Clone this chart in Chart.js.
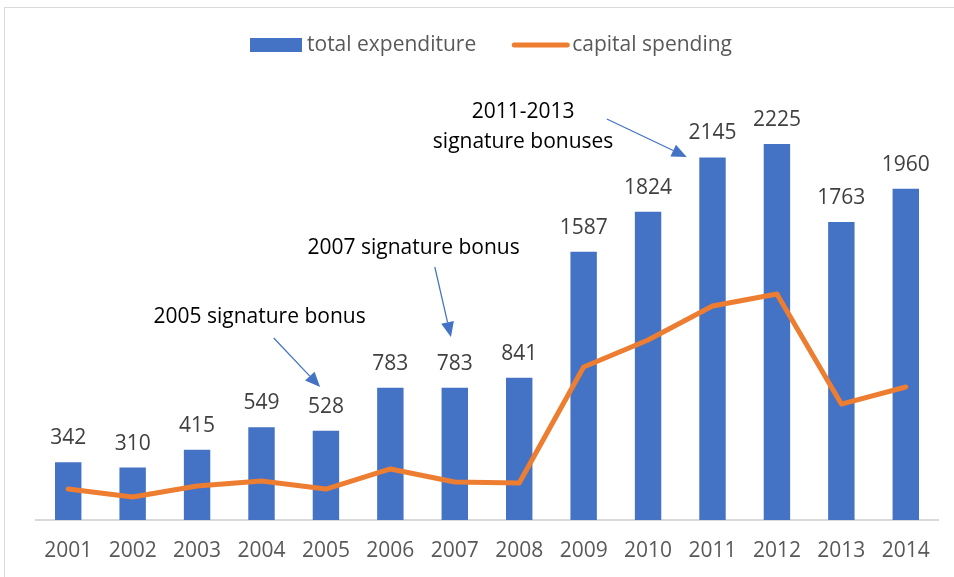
<!DOCTYPE html>
<html>
<head>
<meta charset="utf-8">
<script src="https://cdn.jsdelivr.net/npm/chart.js@4"></script>
<style>
	body { margin: 0; background: #fff; }
	#wrap { width: 954px; height: 577px; }
</style>
</head>
<body>
<div id="wrap"><canvas id="chart" width="954" height="577"></canvas></div>
<script>
// Data
const years = ["2001", "2002", "2003", "2004", "2005", "2006", "2007", "2008", "2009", "2010", "2011", "2012", "2013", "2014"];
const totalExpenditure = [342, 310, 415, 549, 528, 783, 783, 841, 1587, 1824, 2145, 2225, 1763, 1960];
const capitalSpending = [183, 136, 201, 231, 183, 302, 225, 219, 905, 1065, 1266, 1337, 686, 787];

// Callouts, placed in data units (category index, value)
const notes = [
	{ lines: ["2005 signature bonus"], at: [2.97, 1201], from: [3.19, 1077], to: [3.91, 787] },
	{ lines: ["2007 signature bonus"], at: [5.36, 1609], from: [5.69, 1497], to: [5.94, 1083] },
	{ lines: ["2011-2013", "signature bonuses"], at: [7.06, 2414], from: [8.36, 2373], to: [9.6, 2148] },
];

const BLUE = "#4472C4";
const ORANGE = "#ED7D31";
const FONT = "'Open Sans', sans-serif";
const SIZE = 21;

function arrow(ctx, x1, y1, x2, y2) {
	const a = Math.atan2(y2 - y1, x2 - x1);
	const len = 15, half = 6.5;
	const bx = x2 - len * Math.cos(a), by = y2 - len * Math.sin(a);
	ctx.strokeStyle = BLUE;
	ctx.fillStyle = BLUE;
	ctx.lineWidth = 1.25;
	ctx.beginPath();
	ctx.moveTo(x1, y1);
	ctx.lineTo(bx, by);
	ctx.stroke();
	ctx.beginPath();
	ctx.moveTo(x2, y2);
	ctx.lineTo(bx + half * Math.sin(a), by - half * Math.cos(a));
	ctx.lineTo(bx - half * Math.sin(a), by + half * Math.cos(a));
	ctx.closePath();
	ctx.fill();
}

const overlay = {
	id: "overlay",
	beforeDraw(chart) {
		const ctx = chart.ctx;
		ctx.save();
		ctx.strokeStyle = "#d9d9d9";
		ctx.lineWidth = 1;
		ctx.strokeRect(4.5, 7.5, 1000, 1000);
		ctx.restore();
	},
	afterDatasetsDraw(chart) {
		const ctx = chart.ctx;
		const xs = chart.scales.x, ys = chart.scales.y;
		ctx.save();
		ctx.font = SIZE + "px " + FONT;
		ctx.textAlign = "center";
		ctx.textBaseline = "middle";

		// value labels above bars
		ctx.fillStyle = "#404040";
		chart.getDatasetMeta(0).data.forEach((bar, i) => {
			ctx.fillText(String(totalExpenditure[i]), bar.x, bar.y - 24);
		});

		// callouts
		const px = (i) => xs.getPixelForValue(0) + i * (xs.getPixelForValue(1) - xs.getPixelForValue(0));
		notes.forEach((n) => {
			ctx.fillStyle = "#000";
			n.lines.forEach((t, k) => {
				ctx.fillText(t, px(n.at[0]), ys.getPixelForValue(n.at[1]) + k * 30);
			});
			arrow(ctx, px(n.from[0]), ys.getPixelForValue(n.from[1]), px(n.to[0]), ys.getPixelForValue(n.to[1]));
		});

		// legend
		const names = ["total expenditure", "capital spending"];
		const w1 = ctx.measureText(names[0]).width;
		const w2 = ctx.measureText(names[1]).width;
		const total = 52 + 5 + w1 + 36 + 57 + 3 + w2;
		let x = (chart.chartArea.left + chart.chartArea.right) / 2 + 4 - total / 2;
		const y = 45;
		ctx.textAlign = "left";
		ctx.fillStyle = BLUE;
		ctx.fillRect(x, y - 7, 52, 14);
		x += 57;
		ctx.fillStyle = "#595959";
		ctx.fillText(names[0], x, y);
		x += w1 + 36;
		ctx.strokeStyle = ORANGE;
		ctx.lineWidth = 5;
		ctx.lineCap = "round";
		ctx.beginPath();
		ctx.moveTo(x + 2, y);
		ctx.lineTo(x + 55, y);
		ctx.stroke();
		x += 60;
		ctx.fillText(names[1], x, y);
		ctx.restore();
	},
};

new Chart(document.getElementById("chart"), {
	type: "bar",
	data: {
		labels: years,
		datasets: [
			{
				type: "bar",
				label: "total expenditure",
				data: totalExpenditure,
				backgroundColor: BLUE,
				categoryPercentage: 1,
				barPercentage: 0.41,
				order: 1,
			},
			{
				type: "line",
				label: "capital spending",
				data: capitalSpending,
				borderColor: ORANGE,
				borderWidth: 5,
				pointRadius: 0,
				tension: 0,
				borderCapStyle: "round",
				borderJoinStyle: "round",
				order: 0,
			},
		],
	},
	options: {
		responsive: false,
		animation: false,
		layout: { padding: { left: 36, right: 16, top: 97.5, bottom: 0 } },
		plugins: { legend: { display: false }, tooltip: { enabled: false } },
		scales: {
			x: {
				grid: { display: false, drawTicks: false },
				border: { color: "#d9d9d9", width: 2 },
				ticks: { color: "#595959", font: { family: FONT, size: SIZE }, padding: 18 },
				afterFit: (s) => { s.height = 57; },
			},
			y: { display: false, min: 0, max: 2500 },
		},
	},
	plugins: [overlay],
});
</script>
</body>
</html>
